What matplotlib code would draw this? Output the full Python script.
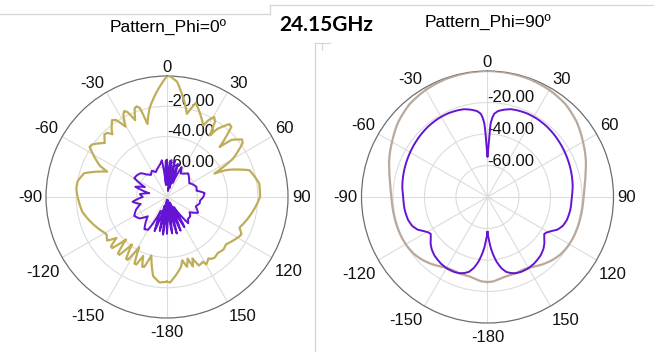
import numpy as np
import matplotlib
matplotlib.use("Agg")
import matplotlib.pyplot as plt
from matplotlib.lines import Line2D

# ---------------- data (angle in degrees, gain in dB) ----------------
# Phi = 0 deg, co-polar (olive)
phi0_co_ang = [-180, -178, -175, -172, -170, -168, -166.5, -165, -163.5, -162, -160.5, -159, -158,
               -157, -155.5, -154, -152.5, -151, -149.5, -148, -146.5, -145, -143.5, -142, -140.5,
               -139, -137.5, -136, -134.5, -133, -131.5, -130, -129, -128, -126, -124, -122, -120,
               -117, -113, -109, -106, -100, -95, -90, -85, -80, -77, -74, -71, -69, -67, -65, -63,
               -61, -59, -57, -55, -53, -51, -49, -47, -45, -43, -41, -39.5, -37.5, -35.5, -33.5,
               -31.5, -30.5, -29.5, -28, -26.5, -25, -23.5, -22.5, -21.5, -20, -18.5, -17, -16, -15,
               -14, -12.5, -11, -9, -7, -5, -3, -1.5, 0, 1.5, 3, 5, 7, 9, 10.5, 12, 13.5, 14.5, 15.5,
               17, 19, 21, 23, 25, 26.8, 28.5, 30.5, 32.5, 34.7, 36.5, 38.5, 40.5, 42.5, 44.5, 46.5,
               48.5, 50.5, 52.5, 54.5, 57, 60, 62, 63.7, 65.5, 68, 72, 77, 81.6, 86, 90, 94, 97.5,
               102, 105.8, 109, 111, 112.9, 114.5, 116.5, 118.5, 121, 123.5, 126, 128.8, 131, 133,
               135.5, 137.7, 140, 142, 144, 146, 147.5, 149.7, 151, 152, 153.5, 155, 156.5, 157.5,
               158.5, 159.5, 160.5, 161.5, 162.5, 164, 165.5, 166.5, 167.5, 168.6, 170, 172, 175,
               178, 180]
phi0_co_db = [-24, -23.5, -23.3, -24.5, -27, -31, -37, -40, -36, -31.5, -31, -34, -38,
              -34, -31, -31, -35, -42, -35, -31, -31, -35, -41, -35, -30.5,
              -30.5, -34, -41, -35, -30.5, -30.5, -33, -37, -33, -31, -32, -33, -32.5,
              -30.5, -28.4, -26.5, -25, -23.2, -21.8, -20.3, -19.8, -20, -21, -23, -27, -31, -37, -31, -25,
              -21, -19, -19, -19.5, -21, -24, -25.5, -23.5, -21.5, -22, -25, -22.5, -19, -17.5, -19,
              -24, -26, -23, -18.5, -16.5, -18, -23, -25, -22, -17.5, -16.8, -18.5, -24, -30,
              -26, -23, -20, -14, -8.5, -4, -1.2, -0.2, 0, -0.2, -1, -3.5, -7.5, -12, -16, -21, -23.5, -19, -15.5,
              -15, -17, -20.5, -24, -26.5, -27, -22, -18.6, -21, -30.6, -24, -18.5, -16.6, -17, -22, -32,
              -23, -18.5, -17.5, -18.5, -22, -30, -38, -45, -37, -28, -22.7, -19.5, -18.4, -18.5, -18.5, -20.5, -22.9,
              -23.8, -24.5, -25.5, -27, -28, -26, -25, -25.5, -27, -28.5, -29.5, -30, -29, -29,
              -30, -30, -29.5, -29, -29.5, -31, -30, -28.4, -31, -35, -31, -30, -33, -36,
              -32, -31, -33, -37, -33, -32, -34, -37, -34, -33, -30, -26, -23.5,
              -23.4, -24]

# Phi = 0 deg, cross-polar (purple)
phi0_x_ang = [-180, -177, -174, -171, -168, -165, -160, -156, -150, -145, -140, -135, -128,
              -120, -112, -105, -98, -90, -84, -78, -72, -66, -60, -54, -48, -42, -36, -30,
              -24, -18, -12, -8, -5, -2, 0, 2, 5, 7, 9, 12, 15, 18, 22, 26, 30, 36, 42, 50,
              58, 64, 71, 78, 84, 90, 96, 101, 108, 117, 124, 130, 136, 141, 146, 150, 154,
              158, 162, 165, 169, 172, 176, 180]
phi0_x_db = [-56, -78, -55, -76, -57, -74, -56, -70, -55, -54, -58, -62, -57,
             -55, -58, -62, -57, -64, -62, -68, -58, -64, -55, -55.5, -56.5, -60, -62, -60,
             -62, -60, -58, -55.5, -72, -56, -55.3, -72, -56, -55.5, -76, -55, -74, -57, -70, -58, -62, -61, -59, -61,
             -62.7, -61, -59.4, -60, -55, -56, -58, -58, -60, -57, -62, -60, -60, -57.7, -72, -57, -76,
             -56, -75, -55, -78, -55.7, -76, -56]

# Phi = 90 deg, co-polar (tan)
phi90_co_ang = [-180, -176, -172, -168, -164, -160, -156, -152, -148, -144, -140, -134, -128, -122,
                -116, -108, -100, -95, -90, -85, -80, -75, -70, -60, -50, -40, -30, -20, -10, 0,
                10, 20, 30, 40, 50, 60, 70, 75, 80, 85, 90, 95, 100, 108, 116, 122, 128, 134,
                140, 144, 148, 152, 156, 160, 164, 168, 172, 176, 180]
phi90_co_db = [-26, -26.3, -27.3, -28.2, -28.4, -28.3, -28.6, -28.5, -27.5, -26, -24.5, -22.5, -21, -20.2,
               -19.8, -19.6, -19.5, -19.3, -19, -18.2, -17, -15.5, -13.5, -10, -6, -3, -1.5, -0.6, -0.2, 0,
               -0.2, -0.6, -1.5, -3, -6, -10, -13.5, -15.5, -17, -18.2, -19, -19.3, -19.5, -19.6, -19.8, -20.2, -21, -22.5,
               -24.5, -26, -27.5, -28.5, -28.6, -28.3, -28.4, -28.2, -27.3, -26.3, -26]

# Phi = 90 deg, cross-polar (purple)
phi90_x_ang = [-180, -179.2, -178, -176.5, -174.5, -172, -169, -166, -163, -160, -156, -151, -145,
               -138, -133, -129, -126, -123, -120.5, -118, -115, -111, -106, -99, -90, -83, -73,
               -63.4, -55, -46.5, -40, -32, -25, -19, -15, -11, -7, -4.6, -3.5, -2.5, -2, -1.5,
               -1.1, -0.5, 0, 0.5, 1.1, 1.5, 2, 2.5, 3.5, 4.6, 7, 11, 15, 19, 25, 32, 40, 46.5,
               55, 63.4, 73, 83, 90, 99, 106, 111, 115, 118, 120.5, 123, 126, 129, 133, 138, 145,
               151, 156, 160, 163, 166, 169, 172, 174.5, 176.5, 178, 179.2, 180]
phi90_x_db = [-57.8, -55.5, -52.5, -48, -43.5, -38.5, -34, -31, -29.5, -28.5, -27.9, -27.8, -28.4,
              -29.8, -31.5, -33.5, -35.5, -37, -36, -34, -31, -28.8, -27.5, -26.8, -26.5, -25.5, -24.5,
              -23.6, -22.8, -22, -21.5, -21.2, -21.3, -21.8, -22.3, -23.5, -25, -27, -29.5, -33, -37, -43,
              -48.3, -52, -54.6, -52, -48.3, -43, -37, -33, -29.5, -27, -25, -23.5, -22.3, -21.8, -21.3, -21.2, -21.5, -22,
              -22.8, -23.6, -24.5, -25.5, -26.5, -26.8, -27.5, -28.8, -31, -34, -36, -37, -35.5, -33.5, -31.5, -29.8, -28.4,
              -27.8, -27.9, -28.5, -29.5, -31, -34, -38.5, -43.5, -48, -52.5, -55.5, -57.8]

theta_ticks = [0, 30, 60, 90, 120, 150, 180, 210, 240, 270, 300, 330]
theta_labels = ['0', '30', '60', '90', '120', '150', '-180', '-150', '-120', '-90', '-60', '-30']
r_ticks = [-60, -40, -20]
r_labels = ['-60.00', '-40.00', '-20.00']
titles = ['Pattern_Phi=0\u00ba', 'Pattern_Phi=90\u00ba']
freq_label = '24.15GHz'

OLIVE = '#BFAE58'
PURPLE = '#6414D2'
TAN = '#B8A99C'
GRID = '#DCDCDC'
SPINE = '#6E6E6E'
FONT = 'Liberation Sans'

W, H = 654, 352
fig = plt.figure(figsize=(W / 100, H / 100), dpi=100)
fig.patch.set_facecolor('white')


def make_polar(cx, cy, R):
    rect = [(cx - R) / W, (H - cy - R) / H, 2 * R / W, 2 * R / H]
    ax = fig.add_axes(rect, projection='polar')
    ax.set_theta_zero_location('N')
    ax.set_theta_direction(-1)
    ax.set_rlim(-80, 0)
    ax.set_xticks(np.deg2rad(theta_ticks))
    ax.set_xticklabels([''] * len(theta_ticks))
    ax.set_xticks(np.deg2rad(np.arange(0, 360, 5)), minor=True)
    ax.set_yticks(r_ticks)
    ax.set_yticklabels([''] * len(r_ticks))
    ax.tick_params(axis='x', which='both', direction='in', length=4, color=SPINE, width=0.7)
    ax.grid(True, color=GRID, lw=0.8)
    ax.set_axisbelow(True)
    ax.spines['polar'].set_color(SPINE)
    ax.spines['polar'].set_linewidth(0.9)
    for a, lab in zip(theta_ticks, theta_labels):
        t = np.deg2rad(a)
        s, c = np.sin(t), np.cos(t)
        ha = 'center' if abs(s) < 0.1 else ('left' if s > 0 else 'right')
        va = 'center' if abs(c) < 0.1 else ('bottom' if c > 0 else 'top')
        if c < -0.1:
            off = (3 * s, -7)
        else:
            off = (4 * s, 1 * c)
        ax.annotate(lab, xy=(t, 0), xytext=off, textcoords='offset pixels',
                    ha=ha, va=va, fontsize=12, family=FONT, color='#111111',
                    annotation_clip=False)
    for rv, lab in zip(r_ticks, r_labels):
        ax.text(0, rv, lab, ha='left', va='baseline', fontsize=12, family=FONT,
                color='#111111', zorder=1)
    return ax


def curve(ax, ang, db, color, lw):
    line, = ax.plot(np.deg2rad(ang), db, color=color, lw=lw, zorder=3,
                    solid_joinstyle='round')
    line.get_path()._interpolation_steps = 6
    return line


ax1 = make_polar(167, 197, 121)
curve(ax1, phi0_co_ang, phi0_co_db, OLIVE, 1.6)
curve(ax1, phi0_x_ang, phi0_x_db, PURPLE, 1.4)

ax2 = make_polar(487.5, 197, 126)
curve(ax2, phi90_co_ang, phi90_co_db, TAN, 1.6)
curve(ax2, phi90_x_ang, phi90_x_db, PURPLE, 1.4)

# titles
fig.text(168 / W, 1 - 28 / H, titles[0], ha='center', va='center', fontsize=12.5, family=FONT)
fig.text(487.5 / W, 1 - 23 / H, titles[1], ha='center', va='center', fontsize=12.5, family=FONT)
fig.text(326 / W, 1 - 25 / H, freq_label, ha='center', va='center', fontsize=15,
         family='Lato', fontweight='bold')

# screenshot frame lines
frame = '#D6D6D6'


def fl(x0, y0, x1, y1):
    fig.add_artist(Line2D([x0 / W, x1 / W], [1 - y0 / H, 1 - y1 / H],
                          transform=fig.transFigure, color=frame, lw=0.9))


fl(0, 14, 270, 14)
fl(270, 5, 270, 14)
fl(270, 5, 654, 5)
fl(315, 43, 315, 352)
fl(315, 43, 330, 43)
fl(322, 43, 322, 50)

fig.savefig('out.png', dpi=100, facecolor='white')
